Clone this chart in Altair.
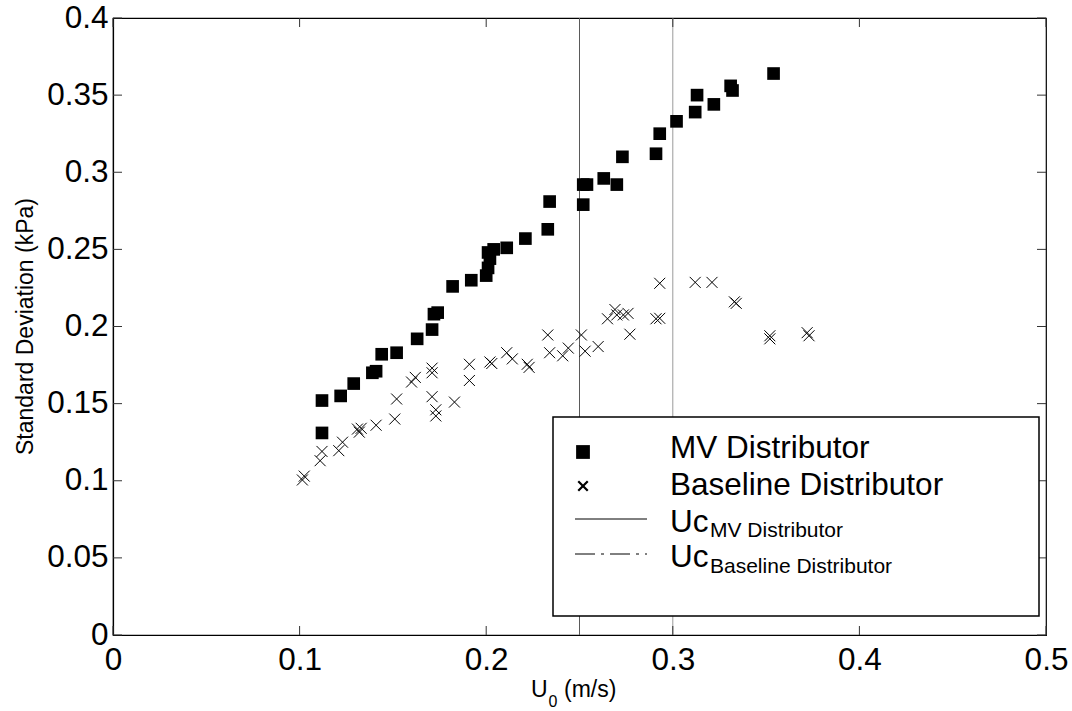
import altair as alt
import pandas as pd

# ---------------- data ----------------
mv_u0 = [0.112, 0.112, 0.122, 0.129, 0.139, 0.141, 0.144, 0.152, 0.163, 0.171,
         0.172, 0.174, 0.182, 0.192, 0.200, 0.201, 0.202, 0.201, 0.204, 0.211,
         0.221, 0.233, 0.234, 0.252, 0.252, 0.254, 0.263, 0.270, 0.273, 0.291,
         0.293, 0.302, 0.312, 0.313, 0.322, 0.331, 0.332, 0.354]
mv_std = [0.152, 0.131, 0.155, 0.163, 0.170, 0.171, 0.182, 0.183, 0.192, 0.198,
          0.208, 0.209, 0.226, 0.230, 0.233, 0.238, 0.244, 0.248, 0.250, 0.251,
          0.257, 0.263, 0.281, 0.279, 0.292, 0.292, 0.296, 0.292, 0.310, 0.312,
          0.325, 0.333, 0.339, 0.350, 0.344, 0.356, 0.353, 0.364]

base_u0 = [0.1015, 0.1025, 0.111, 0.112, 0.121, 0.123, 0.131, 0.132, 0.133, 0.141,
           0.151, 0.152, 0.160, 0.162, 0.171, 0.171, 0.171, 0.173, 0.173, 0.183,
           0.191, 0.191, 0.202, 0.203, 0.211, 0.214, 0.222, 0.223, 0.233, 0.234,
           0.241, 0.244, 0.251, 0.253, 0.260, 0.265, 0.269, 0.270, 0.2735, 0.276,
           0.277, 0.291, 0.293, 0.293, 0.312, 0.321, 0.333, 0.334, 0.352, 0.352,
           0.372, 0.373]
base_std = [0.1005, 0.103, 0.113, 0.119, 0.1195, 0.125, 0.1335, 0.1315, 0.134, 0.136,
            0.140, 0.153, 0.164, 0.167, 0.173, 0.170, 0.1545, 0.146, 0.142, 0.151,
            0.1755, 0.165, 0.177, 0.176, 0.183, 0.179, 0.1755, 0.1735, 0.1945, 0.183,
            0.181, 0.186, 0.1945, 0.184, 0.187, 0.205, 0.211, 0.2075, 0.2075, 0.2085,
            0.195, 0.205, 0.2053, 0.228, 0.2286, 0.2286, 0.216, 0.215, 0.194, 0.192,
            0.196, 0.194]

uc_mv = [0.25]
uc_base = [0.30]

x_ticks = [0, 0.1, 0.2, 0.3, 0.4, 0.5]
y_ticks = [0, 0.05, 0.1, 0.15, 0.2, 0.25, 0.3, 0.35, 0.4]

legend_labels = ["MV Distributor", "Baseline Distributor", "Uc", "MV Distributor",
                 "Uc", "Baseline Distributor"]
x_title = ["U", "0", "(m/s)"]
y_title = "Standard Deviation (kPa)"

# ---------------- layout ----------------
W, H = 933, 617
FONT = "Liberation Sans"
BIG = 31.5
SMALL = 21
TITLE = 23

xs = alt.Scale(domain=[0, 0.5], nice=False, zero=False)
ys = alt.Scale(domain=[0, 0.4], nice=False, zero=False)

xax = alt.Axis(values=x_ticks, format="~g", title=None, grid=False, ticks=False,
               tickSize=0, labelFont=FONT, labelFontSize=BIG, labelColor="black",
               labelPadding=9, labelFlush=False, labelOverlap=False,
               domainColor="black", domainWidth=1.2)
yax = alt.Axis(values=y_ticks, format="~g", title=None, grid=False, ticks=False,
               tickSize=0, labelFont=FONT, labelFontSize=BIG, labelColor="black",
               labelPadding=5, labelFlush=False, labelOverlap=False,
               domainColor="black", domainWidth=1.2)

X = lambda f: alt.X(f"{f}:Q", scale=xs, axis=xax)
Y = lambda f: alt.Y(f"{f}:Q", scale=ys, axis=yax)

mv_df = pd.DataFrame({"u0": mv_u0, "std": mv_std})
base_df = pd.DataFrame({"u0": base_u0, "std": base_std})
uc_mv_df = pd.DataFrame({"u0": uc_mv})
uc_base_df = pd.DataFrame({"u0": uc_base})
xt_df = pd.DataFrame({"u0": x_ticks})
yt_df = pd.DataFrame({"std": y_ticks})
one = pd.DataFrame({"k": [0]})

CROSS = "M-1,-1L1,1M1,-1L-1,1"

uc_mv_line = alt.Chart(uc_mv_df).mark_rule(color="#5a5a5a", strokeWidth=1).encode(x=X("u0"))
uc_base_line = alt.Chart(uc_base_df).mark_rule(color="#9a9a9a", strokeWidth=1).encode(x=X("u0"))

squares = alt.Chart(mv_df).mark_point(shape="square", filled=True, size=160,
                                      color="black", opacity=1).encode(x=X("u0"), y=Y("std"))
crosses = alt.Chart(base_df).mark_point(shape=CROSS, filled=False, size=121, color="black",
                                        strokeWidth=1, opacity=1).encode(x=X("u0"), y=Y("std"))

# inward ticks (MATLAB style) on all four sides
tk = dict(color="#333333", strokeWidth=1)
xt_bot = alt.Chart(xt_df).mark_rule(**tk).encode(x=X("u0"), y=alt.value(H), y2=alt.value(H - 9))
xt_top = alt.Chart(xt_df).mark_rule(**tk).encode(x=X("u0"), y=alt.value(0), y2=alt.value(9))
yt_left = alt.Chart(yt_df).mark_rule(**tk).encode(y=Y("std"), x=alt.value(0), x2=alt.value(9))
yt_right = alt.Chart(yt_df).mark_rule(**tk).encode(y=Y("std"), x=alt.value(W), x2=alt.value(W - 9))

# legend
leg_box = alt.Chart(one).mark_rect(fill="white", stroke="black", strokeWidth=1.5).encode(
    x=alt.value(440), x2=alt.value(926), y=alt.value(399), y2=alt.value(598))
leg_sq = alt.Chart(one).mark_point(shape="square", filled=True, size=190, color="black",
                                   opacity=1).encode(x=alt.value(470), y=alt.value(434))
leg_cr = alt.Chart(one).mark_point(shape=CROSS, filled=False, size=90, color="black",
                                   strokeWidth=2.2, opacity=1).encode(x=alt.value(470), y=alt.value(468))
leg_l1 = alt.Chart(one).mark_rule(color="black", strokeWidth=1).encode(
    x=alt.value(462), x2=alt.value(534), y=alt.value(501))
leg_l2 = alt.Chart(one).mark_rule(color="black", strokeWidth=1, strokeDash=[20, 6, 3, 6]).encode(
    x=alt.value(462), x2=alt.value(534), y=alt.value(536))


def txt(s, x, y, size, align="left", angle=0):
    kw = dict(text=s, align=align, baseline="alphabetic", font=FONT, fontSize=size,
              color="black")
    if angle:
        kw["angle"] = angle
    return alt.Chart(one).mark_text(**kw).encode(x=alt.value(x), y=alt.value(y))


leg_t = [
    txt(legend_labels[0], 557, 440, BIG),
    txt(legend_labels[1], 557, 477, BIG),
    txt(legend_labels[2], 557, 514, BIG),
    txt(legend_labels[3], 597, 519, SMALL),
    txt(legend_labels[4], 557, 549, BIG),
    txt(legend_labels[5], 597, 555, SMALL),
]

titles = [
    txt(x_title[0], 418, 679, TITLE),
    txt(x_title[1], 435.5, 689, 16),
    txt(x_title[2], 451, 679, TITLE),
    txt(y_title, -80, 308.5, TITLE, align="center", angle=270),
]

chart = alt.layer(
    uc_mv_line, uc_base_line, squares, crosses,
    xt_bot, xt_top, yt_left, yt_right,
    leg_box, leg_sq, leg_cr, leg_l1, leg_l2, *leg_t, *titles,
).properties(
    width=W, height=H,
    autosize=alt.AutoSizeParams(type="none"),
    padding={"left": 113, "top": 18, "right": 26, "bottom": 76},
    background="white",
).configure_view(stroke="black", strokeWidth=1.2)

chart.save("out.html", embed_options={"renderer": "svg", "actions": False})
